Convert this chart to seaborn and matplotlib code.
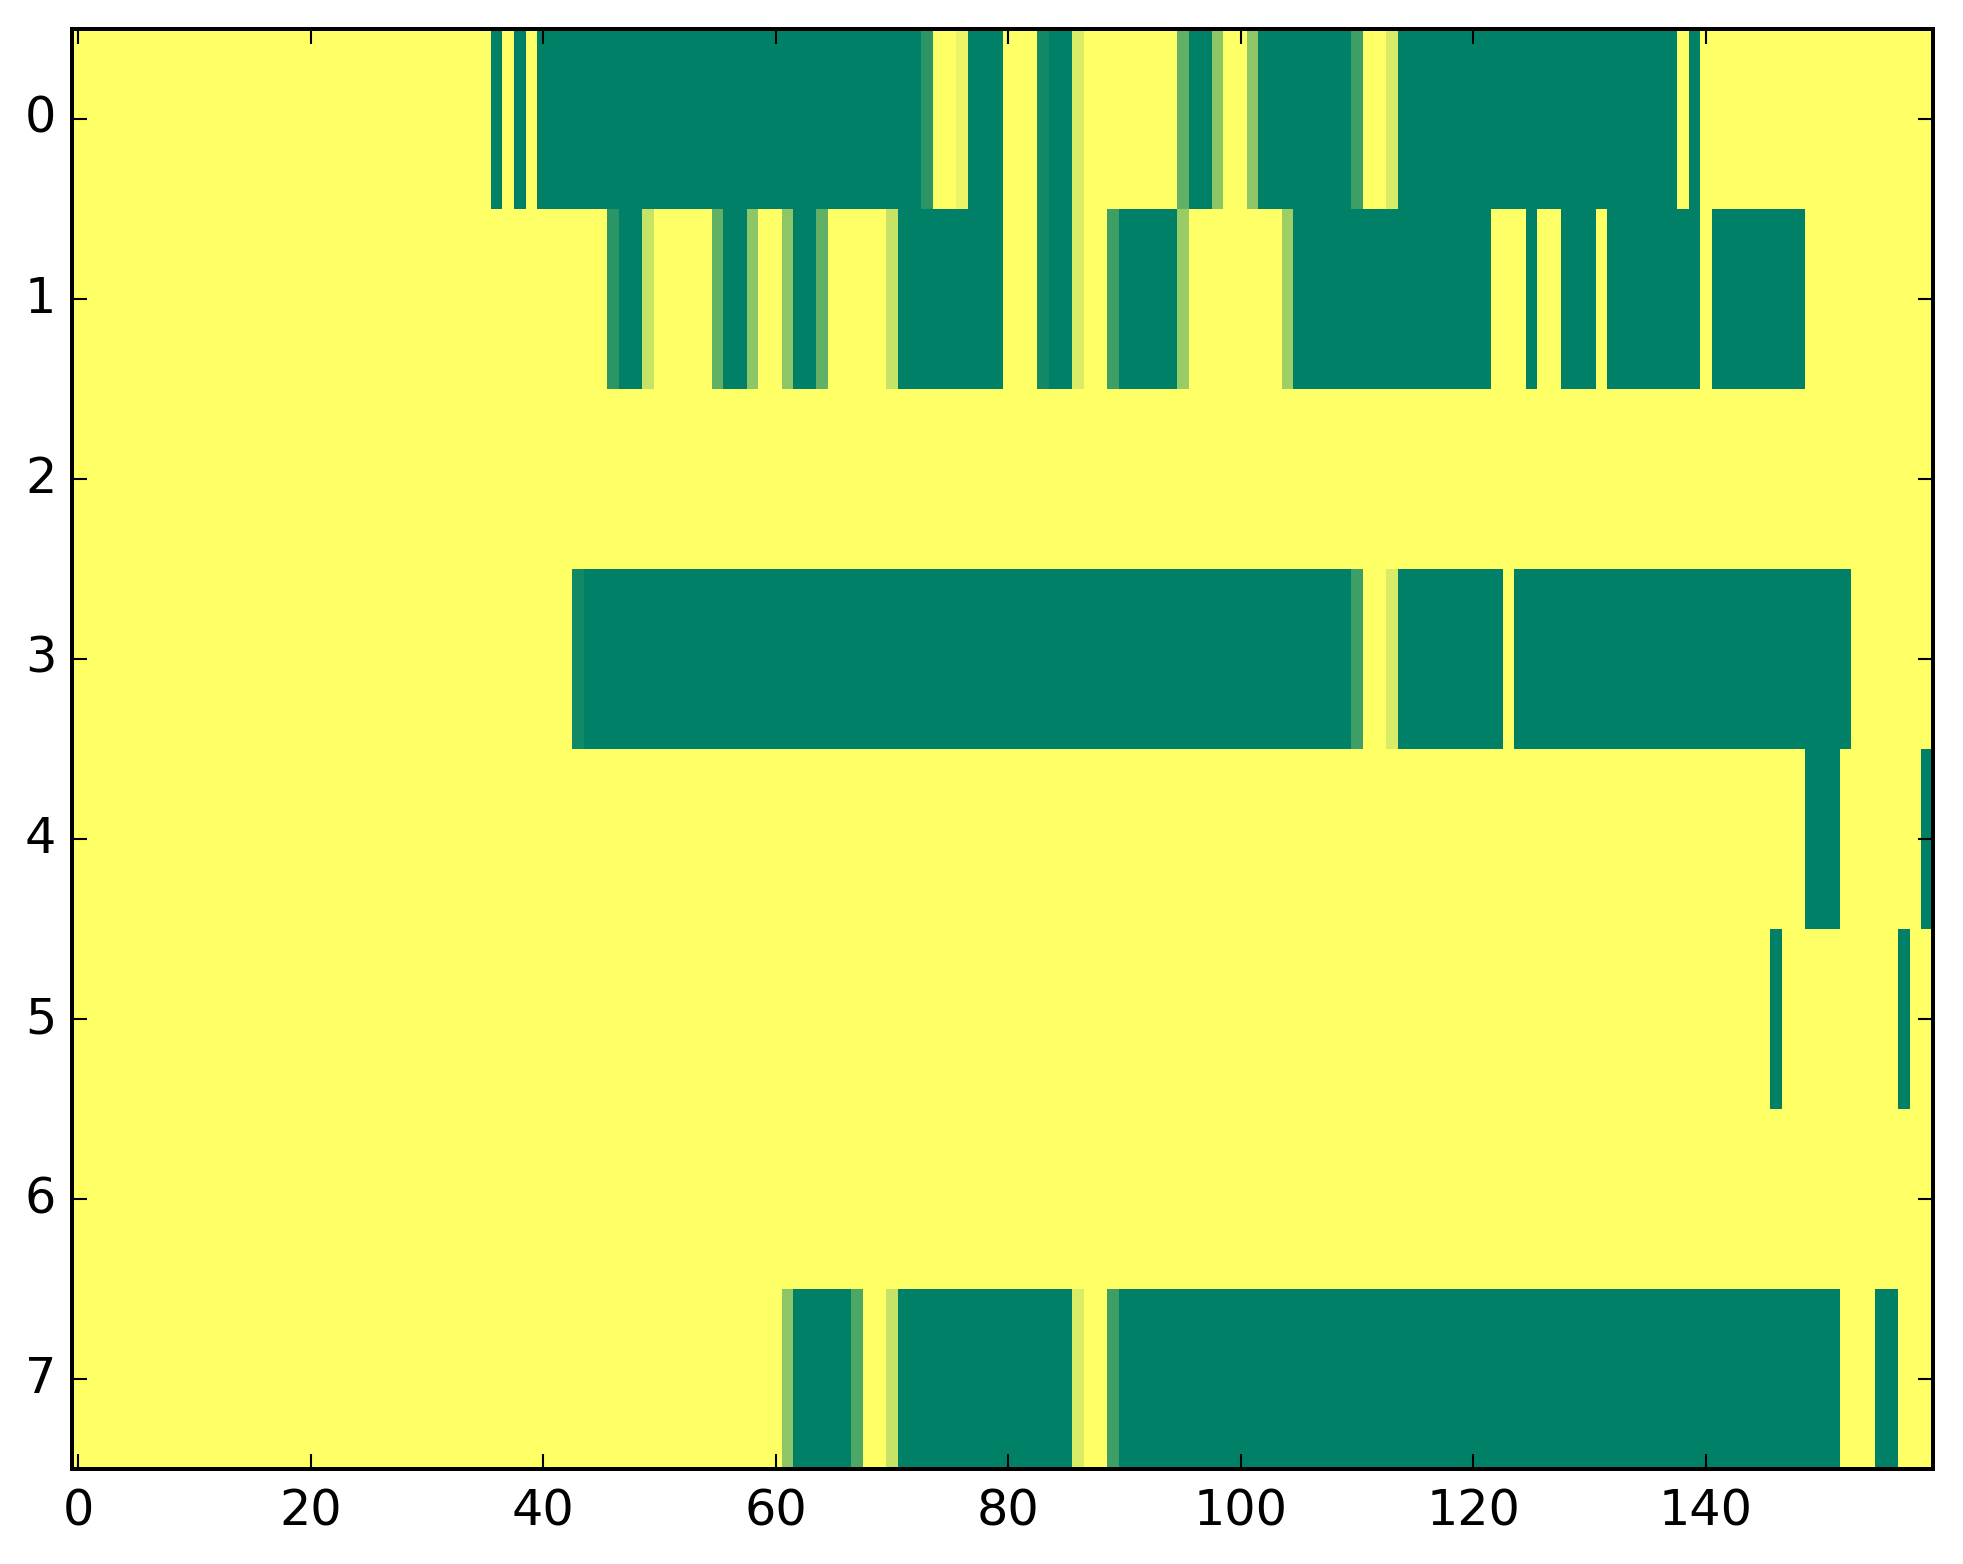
import numpy as np
import matplotlib
matplotlib.use("Agg")
import matplotlib.pyplot as plt
import seaborn as sns

plt.style.use("classic")

n_cols = 160
row_labels = [0, 1, 2, 3, 4, 5, 6, 7]
x_tick_values = [0, 20, 40, 60, 80, 100, 120, 140]

# Each row given as runs: (first column, last column, value); other cells are 0
row0 = [(36, 36, 1), (38, 38, 1), (40, 72, 1), (73, 73, 0.83), (76, 76, 0.08),
        (77, 79, 1), (83, 83, 0.93), (84, 85, 1), (86, 86, 0.15), (95, 95, 0.62),
        (96, 97, 1), (98, 98, 0.45), (101, 101, 0.45), (102, 109, 1), (110, 110, 0.76),
        (113, 113, 0.15), (114, 137, 1), (139, 139, 1)]
row1 = [(46, 46, 0.83), (47, 48, 1), (49, 49, 0.22), (55, 55, 0.62), (56, 57, 1),
        (58, 58, 0.45), (61, 61, 0.45), (62, 63, 1), (64, 64, 0.62), (70, 70, 0.22),
        (71, 79, 1), (83, 83, 0.93), (84, 85, 1), (86, 86, 0.15), (89, 89, 0.76),
        (90, 94, 1), (95, 95, 0.4), (104, 104, 0.38), (105, 121, 1), (125, 125, 1),
        (128, 130, 1), (132, 139, 1), (141, 148, 1)]
row2 = []
row3 = [(43, 43, 0.93), (44, 109, 1), (110, 110, 0.76), (113, 113, 0.15),
        (114, 122, 1), (124, 152, 1)]
row4 = [(149, 151, 1), (159, 159, 1)]
row5 = [(146, 146, 1), (157, 157, 1)]
row6 = []
row7 = [(61, 61, 0.45), (62, 66, 1), (67, 67, 0.7), (70, 70, 0.22), (71, 85, 1),
        (86, 86, 0.15), (89, 89, 0.76), (90, 151, 1), (155, 156, 1)]

rows = [row0, row1, row2, row3, row4, row5, row6, row7]
data = np.zeros((len(rows), n_cols))
for i, runs in enumerate(rows):
    for a, b, v in runs:
        data[i, a:b + 1] = v

fig = plt.figure(figsize=(1963 / 250, 1564 / 250), dpi=250, facecolor="white")
ax = fig.add_axes([0.0368, 0.0607, 0.9846 - 0.0368, 0.9815 - 0.0607])

sns.heatmap(data, ax=ax, cmap="summer_r", vmin=0, vmax=1, cbar=False,
            linewidths=0, xticklabels=False, yticklabels=False)

for s in ax.spines.values():
    s.set_visible(True)
    s.set_linewidth(1.15)
    s.set_color("black")

ax.set_xticks(np.array(x_tick_values) + 0.5)
ax.set_xticklabels([str(v) for v in x_tick_values], rotation=0, fontsize=14.2)
ax.set_yticks(np.array(row_labels) + 0.5)
ax.set_yticklabels([str(v) for v in row_labels], rotation=0, fontsize=14.2, va="center")
ax.tick_params(direction="in", top=True, right=True, bottom=True, left=True,
               length=4.3, width=0.6)
ax.tick_params(axis="x", pad=5.2)
ax.tick_params(axis="y", pad=4.6)
ax.set_xlim(0, n_cols)
ax.set_ylim(len(rows), 0)
ax.set_xlabel("")
ax.set_ylabel("")

fig.savefig("out.png", dpi=250, facecolor="white")
